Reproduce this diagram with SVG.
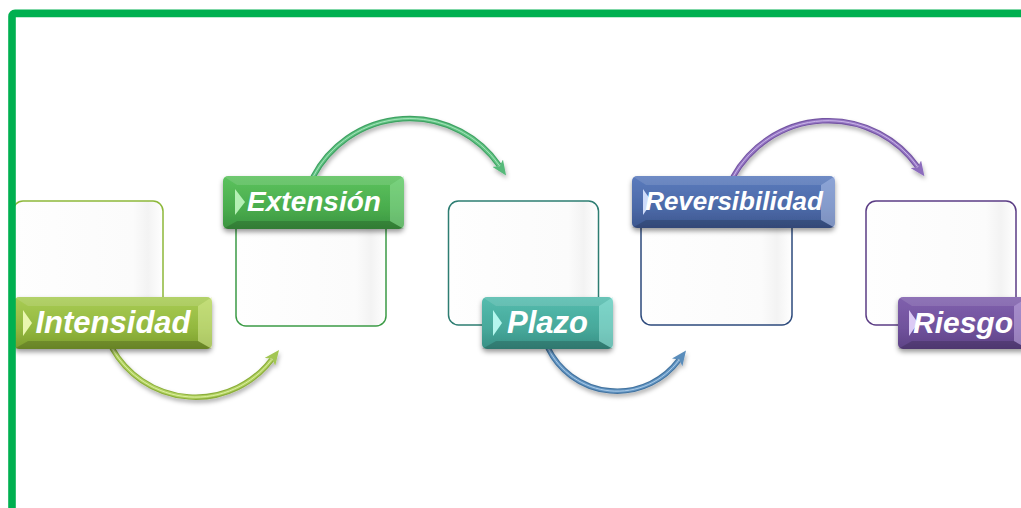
<svg xmlns="http://www.w3.org/2000/svg" width="1021" height="508" viewBox="0 0 1021 508">
  <defs>
    <style>
      .box { stroke-width: 1.5; fill: url(#boxFill); }
      .lbl { font-family: "Liberation Sans", Arial, sans-serif; font-weight: bold; font-style: italic; fill: #ffffff; text-anchor: middle; }
      .topface { fill: #ffffff; fill-opacity: 0.12; }
      .botface { fill: #000000; fill-opacity: 0.16; }
      .tube { fill: none; stroke-linecap: butt; }
    </style>
    <linearGradient id="boxFill" x1="0" y1="0" x2="1" y2="0">
      <stop offset="0" stop-color="#fefefe"/>
      <stop offset="0.8" stop-color="#fbfbfb"/>
      <stop offset="0.9" stop-color="#f3f3f3"/>
      <stop offset="0.96" stop-color="#fafafa"/>
      <stop offset="1" stop-color="#ffffff"/>
    </linearGradient>
    <linearGradient id="gLime" x1="0" y1="0" x2="0" y2="1">
      <stop offset="0" stop-color="#a9cc55"/>
      <stop offset="0.6" stop-color="#93b83f"/>
      <stop offset="1" stop-color="#7c9d2d"/>
    </linearGradient>
    <linearGradient id="gGreen" x1="0" y1="0" x2="0" y2="1">
      <stop offset="0" stop-color="#5cc25e"/>
      <stop offset="0.6" stop-color="#4aad4e"/>
      <stop offset="1" stop-color="#3b943f"/>
    </linearGradient>
    <linearGradient id="gTeal" x1="0" y1="0" x2="0" y2="1">
      <stop offset="0" stop-color="#55bcae"/>
      <stop offset="0.6" stop-color="#47a99b"/>
      <stop offset="1" stop-color="#388f84"/>
    </linearGradient>
    <linearGradient id="gBlue" x1="0" y1="0" x2="0" y2="1">
      <stop offset="0" stop-color="#5b7bbd"/>
      <stop offset="0.6" stop-color="#4c6aa8"/>
      <stop offset="1" stop-color="#3d578f"/>
    </linearGradient>
    <linearGradient id="gPurple" x1="0" y1="0" x2="0" y2="1">
      <stop offset="0" stop-color="#8060ad"/>
      <stop offset="0.6" stop-color="#70529c"/>
      <stop offset="1" stop-color="#5d4285"/>
    </linearGradient>
    <filter id="lblShadow" x="-10%" y="-20%" width="120%" height="160%">
      <feDropShadow dx="0" dy="3" stdDeviation="2.5" flood-color="#000" flood-opacity="0.4"/>
    </filter>
    <filter id="arcShadow" x="-10%" y="-20%" width="120%" height="160%">
      <feDropShadow dx="1" dy="3" stdDeviation="2" flood-color="#000" flood-opacity="0.3"/>
    </filter>
    <marker id="mLime" viewBox="0 0 16 14" markerUnits="userSpaceOnUse" markerWidth="15" markerHeight="13" refX="3" refY="7" orient="auto">
      <path d="M0,0 L16,7 L0,14 L4,7 Z" fill="#a2c652"/>
    </marker>
    <marker id="mGreen" viewBox="0 0 16 14" markerUnits="userSpaceOnUse" markerWidth="15" markerHeight="13" refX="3" refY="7" orient="auto">
      <path d="M0,0 L16,7 L0,14 L4,7 Z" fill="#55b979"/>
    </marker>
    <marker id="mBlue" viewBox="0 0 16 14" markerUnits="userSpaceOnUse" markerWidth="15" markerHeight="13" refX="3" refY="7" orient="auto">
      <path d="M0,0 L16,7 L0,14 L4,7 Z" fill="#5a8dbb"/>
    </marker>
    <marker id="mPurple" viewBox="0 0 16 14" markerUnits="userSpaceOnUse" markerWidth="15" markerHeight="13" refX="3" refY="7" orient="auto">
      <path d="M0,0 L16,7 L0,14 L4,7 Z" fill="#8c6cbd"/>
    </marker>
  </defs>

  <rect x="0" y="0" width="1021" height="508" fill="#ffffff"/>

  <!-- curved connectors -->
  <g id="connectors">
    <g filter="url(#arcShadow)">
      <path class="tube" d="M112,348 A95.8,95.8 0 0 0 271.7,359.6" stroke="#8bae3a" stroke-width="5.5" marker-end="url(#mLime)"/>
      <path class="tube" d="M112,348 A95.8,95.8 0 0 0 271.7,359.6" stroke="#b2d262" stroke-width="3.2"/>
      <path class="tube" d="M112,348 A95.8,95.8 0 0 0 271.7,359.6" stroke="#dcefa0" stroke-width="1"/>
    </g>
    <g filter="url(#arcShadow)">
      <path class="tube" d="M313,177 A109,109 0 0 1 499.2,165.5" stroke="#3fa263" stroke-width="5.5" marker-end="url(#mGreen)"/>
      <path class="tube" d="M313,177 A109,109 0 0 1 499.2,165.5" stroke="#62c484" stroke-width="3.2"/>
      <path class="tube" d="M313,177 A109,109 0 0 1 499.2,165.5" stroke="#a6e4bb" stroke-width="1"/>
    </g>
    <g filter="url(#arcShadow)">
      <path class="tube" d="M548,348 A76.9,76.9 0 0 0 678.8,360.2" stroke="#43739f" stroke-width="5.5" marker-end="url(#mBlue)"/>
      <path class="tube" d="M548,348 A76.9,76.9 0 0 0 678.8,360.2" stroke="#6497c5" stroke-width="3.2"/>
      <path class="tube" d="M548,348 A76.9,76.9 0 0 0 678.8,360.2" stroke="#adcbe6" stroke-width="1"/>
    </g>
    <g filter="url(#arcShadow)">
      <path class="tube" d="M733,177 A109.1,109.1 0 0 1 917.4,166.5" stroke="#7556a3" stroke-width="5.5" marker-end="url(#mPurple)"/>
      <path class="tube" d="M733,177 A109.1,109.1 0 0 1 917.4,166.5" stroke="#9677c5" stroke-width="3.2"/>
      <path class="tube" d="M733,177 A109.1,109.1 0 0 1 917.4,166.5" stroke="#cbb6e8" stroke-width="1"/>
    </g>
  </g>

  <!-- Intensidad -->
  <g id="node-intensidad">
    <rect class="box" x="13" y="201" width="150" height="124" rx="10" stroke="#8db83a"/>
    <g filter="url(#lblShadow)">
      <rect x="14" y="297" width="198" height="52" rx="5" fill="url(#gLime)"/>
    </g>
    <polygon class="topface" points="14,297 212,297 198,306 28,306"/>
    <polygon class="botface" points="14,349 212,349 198,341 28,341"/>
    <polygon points="212,297 198,306 198,341 212,349" fill="#e4f3a6" fill-opacity="0.45"/>
    <polygon points="23,310 32,323 23,336" fill="#eaf7b0"/>
    <text class="lbl" x="113" y="333" font-size="31">Intensidad</text>
  </g>

  <!-- Extensión -->
  <g id="node-extension">
    <rect class="box" x="236" y="201" width="150" height="125" rx="10" stroke="#3b9b45"/>
    <g filter="url(#lblShadow)">
      <rect x="223" y="176" width="181" height="53" rx="5" fill="url(#gGreen)"/>
    </g>
    <polygon class="topface" points="223,176 404,176 390,185 237,185"/>
    <polygon class="botface" points="223,229 404,229 390,221 237,221"/>
    <polygon points="404,176 390,185 390,221 404,229" fill="#a8eab0" fill-opacity="0.4"/>
    <polygon points="235,189 245,202 235,215" fill="#b4f0b4"/>
    <text class="lbl" x="314" y="211" font-size="28">Extensión</text>
  </g>

  <!-- Plazo -->
  <g id="node-plazo">
    <rect class="box" x="448.5" y="201" width="150" height="124" rx="10" stroke="#2d7d72"/>
    <g filter="url(#lblShadow)">
      <rect x="482" y="297" width="131" height="52" rx="5" fill="url(#gTeal)"/>
    </g>
    <polygon class="topface" points="482,297 613,297 599,306 496,306"/>
    <polygon class="botface" points="482,349 613,349 599,341 496,341"/>
    <polygon points="613,297 599,306 599,341 613,349" fill="#b0f5ec" fill-opacity="0.45"/>
    <polygon points="493,310 502,323 493,336" fill="#b4f7ee"/>
    <text class="lbl" x="547.5" y="333" font-size="31">Plazo</text>
  </g>

  <!-- Reversibilidad -->
  <g id="node-reversibilidad">
    <rect class="box" x="641" y="201" width="151" height="124" rx="10" stroke="#2d4a7c"/>
    <g filter="url(#lblShadow)">
      <rect x="632" y="176" width="203" height="52" rx="5" fill="url(#gBlue)"/>
    </g>
    <polygon class="topface" points="632,176 835,176 821,185 646,185"/>
    <polygon class="botface" points="632,228 835,228 821,220 646,220"/>
    <polygon points="835,176 821,185 821,220 835,228" fill="#c9d7f7" fill-opacity="0.45"/>
    <polygon points="643,189 652,202 643,215" fill="#cfdcfa"/>
    <text class="lbl" x="734" y="210" font-size="26">Reversibilidad</text>
  </g>

  <!-- Riesgo -->
  <g id="node-riesgo">
    <rect class="box" x="866" y="201" width="150" height="124" rx="10" stroke="#5b3d85"/>
    <g filter="url(#lblShadow)">
      <rect x="898" y="297" width="130" height="52" rx="5" fill="url(#gPurple)"/>
    </g>
    <polygon class="topface" points="898,297 1028,297 1014,306 912,306"/>
    <polygon class="botface" points="898,349 1028,349 1014,341 912,341"/>
    <polygon points="1028,297 1014,306 1014,341 1028,349" fill="#d8c6f3" fill-opacity="0.45"/>
    <polygon points="909,310 918,323 909,336" fill="#dccbf5"/>
    <text class="lbl" x="963" y="333" font-size="30">Riesgo</text>
  </g>

  <!-- frame -->
  <rect x="12" y="13.4" width="1040" height="498.3" rx="3" fill="none" stroke="#00b050" stroke-width="7.6"/>
</svg>
